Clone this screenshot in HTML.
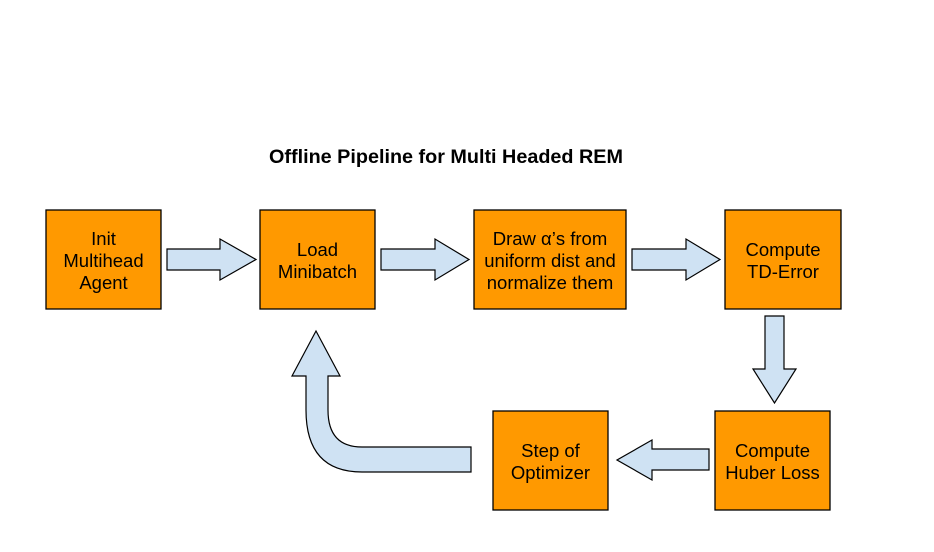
<!DOCTYPE html>
<html><head><style>
body{margin:0;background:#fff;}
svg text{font-family:"Liberation Sans",Arial,sans-serif;}
</style></head><body>
<svg width="934" height="547" xmlns="http://www.w3.org/2000/svg">
<rect width="934" height="547" fill="#fff"/>
<text x="446" y="163" font-size="19.8" font-weight="bold" text-anchor="middle" fill="#000">Offline Pipeline for Multi Headed REM</text>
<g fill="#ff9900" stroke="#000" stroke-width="1.3">
<rect x="46" y="210" width="115" height="99"/>
<rect x="260" y="210" width="115" height="99"/>
<rect x="474" y="210" width="152" height="99"/>
<rect x="725" y="210" width="116" height="99"/>
<rect x="715" y="411" width="115" height="99"/>
<rect x="493" y="411" width="115" height="99"/>
</g>
<g font-size="18.5" fill="#000" text-anchor="middle">
<text x="103.5" y="245">Init</text><text x="103.5" y="267">Multihead</text><text x="103.5" y="289">Agent</text>
<text x="317.5" y="256">Load</text><text x="317.5" y="278">Minibatch</text>
<text x="550" y="245">Draw α’s from</text><text x="550" y="267">uniform dist and</text><text x="550" y="289">normalize them</text>
<text x="783" y="256">Compute</text><text x="783" y="278">TD-Error</text>
<text x="772.5" y="457">Compute</text><text x="772.5" y="479">Huber Loss</text>
<text x="550.5" y="457">Step of</text><text x="550.5" y="479">Optimizer</text>
</g>
<g fill="#cfe2f3" stroke="#000" stroke-width="1.2">
<path d="M167 249H220V239L256 259.5L220 280V270H167Z"/>
<path d="M381 249H435V239L469 259.5L435 280V270H381Z"/>
<path d="M632 249H686V239L720 259.5L686 280V270H632Z"/>
<path d="M765 316H784V369H796L774.5 403L753 369H765Z"/>
<path d="M709 449H652V440L617 460L652 480V470H709Z"/>
<path d="M471 447V472H362Q306 472 306 410V376H292L316 331L340 376H328V410Q328 447 362 447Z"/>
</g>
</svg>
</body></html>
